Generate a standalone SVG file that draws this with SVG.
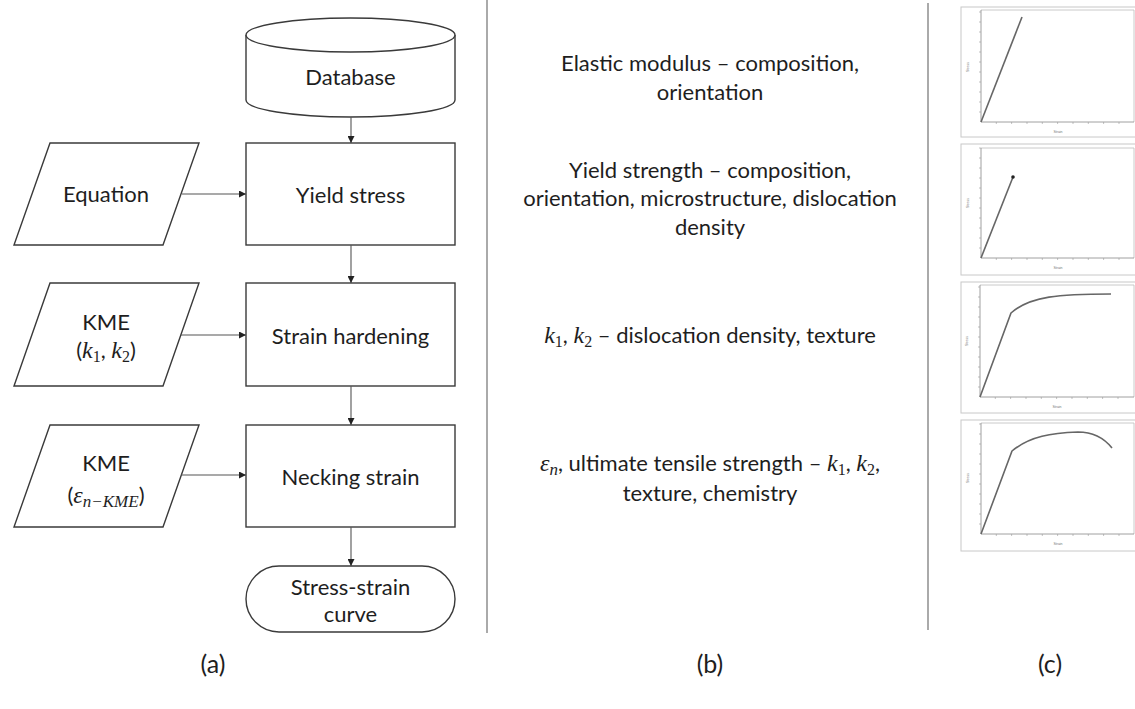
<svg xmlns="http://www.w3.org/2000/svg" width="1135" height="709" viewBox="0 0 1135 709">
<defs>
<style>
.sh{fill:#fff;stroke:#3a3a3a;stroke-width:1.4}
.t{font-family:Lato,"Open Sans","Liberation Sans",sans-serif;font-size:22px;fill:#1e1e1e;text-anchor:middle}
.b{font-family:Lato,"Open Sans","Liberation Sans",sans-serif;font-size:22px;fill:#1e1e1e;text-anchor:middle}
.lb{font-family:Lato,"Open Sans","Liberation Sans",sans-serif;font-size:25px;fill:#1e1e1e;text-anchor:middle}
.m{font-family:"Liberation Serif","DejaVu Serif",serif;font-style:italic;font-size:24px}
.s{font-family:"Liberation Serif","DejaVu Serif",serif;font-size:16px}
.si{font-family:"Liberation Serif","DejaVu Serif",serif;font-style:italic;font-size:17px}
.c{stroke:#555;stroke-width:1.1;fill:none;marker-end:url(#ah)}
.div{stroke:#aaa;stroke-width:2}
.fo{fill:#fff;stroke:#c8c8c8;stroke-width:1}
.fi{fill:none;stroke:#bdbdbd;stroke-width:0.8}
.ax{stroke:#888;stroke-width:0.8;fill:none}
.tk{stroke:#999;stroke-width:0.6}
.cv{fill:none;stroke:#666;stroke-width:1.6}
.tiny{font-family:"Liberation Sans",sans-serif;font-size:3.5px;fill:#777;text-anchor:middle}
</style>
<marker id="ah" viewBox="0 0 10 10" refX="10" refY="5" markerWidth="7" markerHeight="7" markerUnits="userSpaceOnUse" orient="auto">
<path d="M0,0 L10,5 L0,10 Z" fill="#222"/>
</marker>
<g id="ticks">
<path class="tk" d="M0,-10 h-2 M0,-20 h-2 M0,-30 h-2 M0,-40 h-2 M0,-50 h-2 M0,-60 h-2 M0,-70 h-2 M0,-80 h-2 M0,-90 h-2 M0,-100 h-2 M0,-110 h-2 M15.3,0 v2 M30.6,0 v2 M46,0 v2 M61.3,0 v2 M76.6,0 v2 M92,0 v2 M107.3,0 v2 M122.6,0 v2 M138,0 v2"/>
</g>
</defs>

<g id="dividers">
<line class="div" x1="487" y1="0" x2="487" y2="633"/>
<line class="div" x1="928" y1="3" x2="928" y2="630"/>
</g>

<g id="database">
<path class="sh" d="M246,35 L246,100 A104.5,17 0 0 0 455,100 L455,35"/>
<ellipse class="sh" cx="350.5" cy="35" rx="104.5" ry="17"/>
<text class="t" x="350.5" y="85">Database</text>
</g>

<g id="yield-stress">
<rect class="sh" x="246" y="143" width="209" height="102"/>
<text class="t" x="350.5" y="203">Yield stress</text>
</g>

<g id="equation">
<polygon class="sh" points="50,143 199,143 163,245 14,245"/>
<text class="t" x="106" y="202">Equation</text>
</g>

<g id="strain-hardening">
<rect class="sh" x="246" y="283" width="209" height="103"/>
<text class="t" x="350.5" y="344">Strain hardening</text>
</g>

<g id="kme-k">
<polygon class="sh" points="50,283 199,283 163,386 14,386"/>
<text class="t" x="106" y="330">KME</text>
<text class="t" x="106" y="358">(<tspan class="m">k</tspan><tspan class="s" dy="4">1</tspan><tspan dy="-4">, </tspan><tspan class="m">k</tspan><tspan class="s" dy="4">2</tspan><tspan dy="-4">)</tspan></text>
</g>

<g id="necking-strain">
<rect class="sh" x="246" y="425" width="209" height="102"/>
<text class="t" x="350.5" y="485">Necking strain</text>
</g>

<g id="kme-eps">
<polygon class="sh" points="50,425 199,425 163,527 14,527"/>
<text class="t" x="106" y="471">KME</text>
<text class="t" x="106" y="503">(<tspan class="m">ε</tspan><tspan class="si" dy="4">n−KME</tspan><tspan dy="-4">)</tspan></text>
</g>

<g id="stress-strain-curve">
<rect class="sh" x="246" y="566" width="209" height="66" rx="33" ry="33"/>
<text class="t" x="350.5" y="595">Stress-strain</text>
<text class="t" x="350.5" y="622">curve</text>
</g>

<g id="connectors">
<line class="c" x1="351" y1="117" x2="351" y2="143"/>
<line class="c" x1="351" y1="245" x2="351" y2="283"/>
<line class="c" x1="351" y1="386" x2="351" y2="425"/>
<line class="c" x1="351" y1="527" x2="351" y2="566"/>
<line class="c" x1="182" y1="194" x2="246" y2="194"/>
<line class="c" x1="181" y1="335" x2="246" y2="335"/>
<line class="c" x1="181" y1="475" x2="246" y2="475"/>
</g>

<g id="column-b">
<text class="b" x="710" y="71">Elastic modulus – composition,</text>
<text class="b" x="710" y="100">orientation</text>
<text class="b" x="710" y="178">Yield strength – composition,</text>
<text class="b" x="710" y="206">orientation, microstructure, dislocation</text>
<text class="b" x="710" y="235">density</text>
<text class="b" x="710" y="343"><tspan class="m">k</tspan><tspan class="s" dy="4">1</tspan><tspan dy="-4">, </tspan><tspan class="m">k</tspan><tspan class="s" dy="4">2</tspan><tspan dy="-4"> – dislocation density, texture</tspan></text>
<text class="b" x="710" y="471"><tspan class="m">ε</tspan><tspan class="si" dy="4">n</tspan><tspan dy="-4">, ultimate tensile strength – </tspan><tspan class="m">k</tspan><tspan class="s" dy="4">1</tspan><tspan dy="-4">, </tspan><tspan class="m">k</tspan><tspan class="s" dy="4">2</tspan><tspan dy="-4">,</tspan></text>
<text class="b" x="710" y="501">texture, chemistry</text>
</g>

<g id="plot-1">
<rect class="fo" x="961" y="7" width="200" height="130"/>
<path class="fi" d="M981,10 H1134 V122"/>
<path class="ax" d="M981,10 V122 H1134"/>
<use href="#ticks" x="981" y="122"/>
<path class="cv" d="M981,122 L1022,17"/>
<text class="tiny" transform="translate(969,67) rotate(-90)">Stress</text>
<text class="tiny" x="1058" y="133">Strain</text>
</g>

<g id="plot-2">
<rect class="fo" x="961" y="144" width="200" height="131"/>
<path class="fi" d="M981,148 H1134 V258"/>
<path class="ax" d="M981,148 V258 H1134"/>
<use href="#ticks" x="981" y="258"/>
<path class="cv" d="M981,258 L1013,177"/>
<circle cx="1013" cy="177" r="1.8" fill="#222"/>
<text class="tiny" transform="translate(969,203) rotate(-90)">Stress</text>
<text class="tiny" x="1058" y="269">Strain</text>
</g>

<g id="plot-3">
<rect class="fo" x="961" y="282" width="200" height="131"/>
<path class="fi" d="M980,285 H1134 V397"/>
<path class="ax" d="M980,285 V397 H1134"/>
<use href="#ticks" x="980" y="397"/>
<path class="cv" d="M980,397 L1011,313 C1030,296 1060,294 1111,294"/>
<text class="tiny" transform="translate(968,341) rotate(-90)">Stress</text>
<text class="tiny" x="1057" y="408">Strain</text>
</g>

<g id="plot-4">
<rect class="fo" x="961" y="420" width="200" height="131"/>
<path class="fi" d="M981,423 H1134 V534"/>
<path class="ax" d="M981,423 V534 H1134"/>
<use href="#ticks" x="981" y="534"/>
<path class="cv" d="M981,534 L1012,451 C1030,436 1052,433 1078,432 C1092,432 1104,438 1112,448"/>
<text class="tiny" transform="translate(969,478) rotate(-90)">Stress</text>
<text class="tiny" x="1058" y="545">Strain</text>
</g>

<g id="labels">
<text class="lb" x="213" y="673">(a)</text>
<text class="lb" x="710" y="673">(b)</text>
<text class="lb" x="1050" y="673">(c)</text>
</g>
</svg>
